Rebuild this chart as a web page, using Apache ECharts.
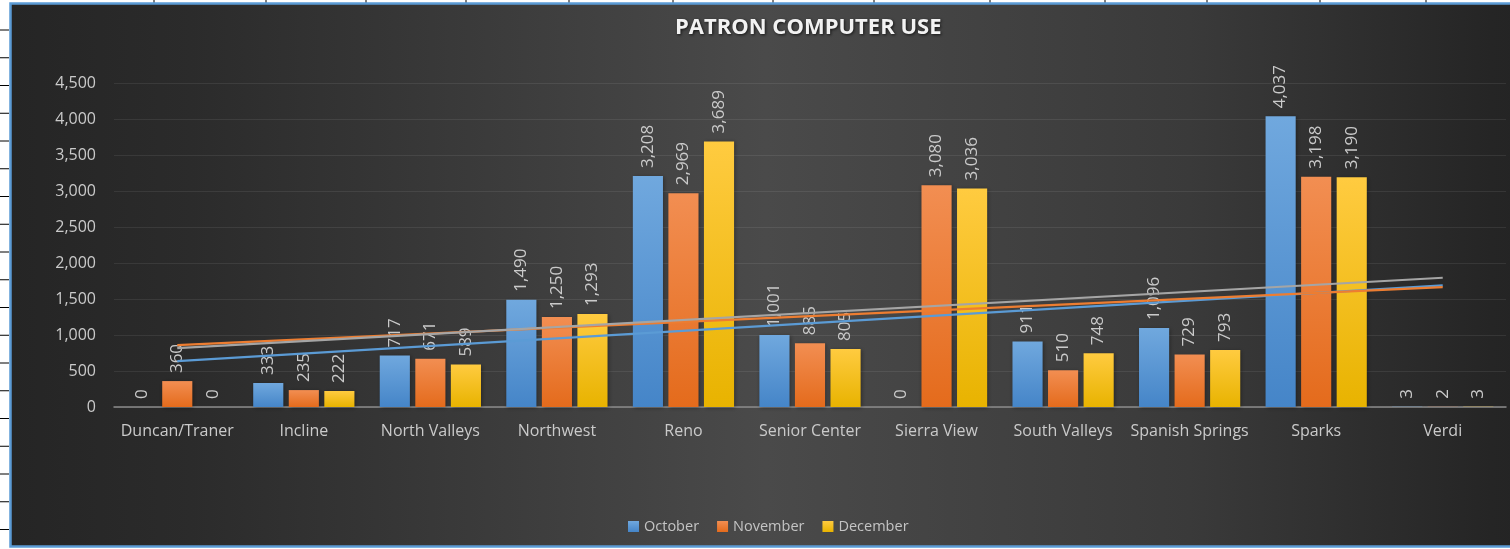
<!DOCTYPE html>
<html>
<head>
<meta charset="utf-8">
<script src="https://cdn.jsdelivr.net/npm/echarts@6/dist/echarts.min.js"></script>
<style>
  html, body { margin: 0; padding: 0; background: #ffffff; }
  #main { width: 1510px; height: 549px; }
</style>
</head>
<body>
<div id="main"></div>
<script>
// branches on the x axis
var categories = ['Duncan/Traner', 'Incline', 'North Valleys', 'Northwest', 'Reno', 'Senior Center',
                  'Sierra View', 'South Valleys', 'Spanish Springs', 'Sparks', 'Verdi'];
var october  = [0, 333, 717, 1490, 3208, 1001, 0, 911, 1096, 4037, 3];
var november = [360, 235, 671, 1250, 2969, 885, 3080, 510, 729, 3198, 2];
var december = [0, 222, 589, 1293, 3689, 805, 3036, 748, 793, 3190, 3];
// linear trendline ends (first and last category)
var octTrend = [636, 1690];
var novTrend = [860, 1666];
var decTrend = [817, 1795];
var yTicks = [0, 500, 1000, 1500, 2000, 2500, 3000, 3500, 4000, 4500];

var FONT = 'Open Sans';
var myChart = echarts.init(document.getElementById('main'));

function grad(top, bottom) {
    return new echarts.graphic.LinearGradient(0, 0, 0, 1, [
        { offset: 0, color: top }, { offset: 1, color: bottom }
    ]);
}

function barSeries(name, data, top, bottom) {
    return {
        name: name,
        type: 'bar',
        data: data,
        barGap: '18%',
        barCategoryGap: '20%',
        itemStyle: {
            color: grad(top, bottom),
            shadowColor: 'rgba(0,0,0,0.35)',
            shadowBlur: 4,
            shadowOffsetX: 1,
            shadowOffsetY: 1
        },
        label: {
            show: true,
            position: 'top',
            rotate: 90,
            align: 'left',
            verticalAlign: 'middle',
            distance: 8,
            color: '#cacaca',
            fontFamily: FONT,
            fontSize: 17,
            formatter: function (p) { return p.value.toLocaleString('en-US'); }
        },
        z: 2
    };
}

function trendSeries(ends, color) {
    return {
        type: 'line',
        data: [[categories[0], ends[0]], [categories[categories.length - 1], ends[1]]],
        symbol: 'none',
        silent: true,
        lineStyle: { color: color, width: 2.2 },
        z: 5
    };
}

// spreadsheet cells around the chart
var deco = [];
var rowY = 30;
while (rowY < 549) {
    deco.push({ type: 'line', shape: { x1: 0, y1: rowY, x2: 9, y2: rowY }, style: { stroke: '#000', lineWidth: 1 }, silent: true, z: -100 });
    rowY += 27.75;
}
[154, 266, 366, 466, 569, 673, 773, 874, 990, 1105, 1207, 1320, 1426].forEach(function (x) {
    deco.push({ type: 'line', shape: { x1: x, y1: 0, x2: x, y2: 3 }, style: { stroke: '#000', lineWidth: 1 }, silent: true, z: -100 });
});
deco.push({
    type: 'rect',
    shape: { x: 10.5, y: 3.5, width: 1510, height: 543 },
    style: {
        fill: new echarts.graphic.LinearGradient(0, 0, 1, 0, [
            { offset: 0, color: '#252525' },
            { offset: 0.12, color: '#2b2b2b' },
            { offset: 0.5, color: '#4a4a4a' },
            { offset: 0.78, color: '#3a3a3a' },
            { offset: 0.98, color: '#252525' },
            { offset: 1, color: '#242424' }
        ]),
        stroke: '#5b9bd5',
        lineWidth: 2.5
    },
    silent: true,
    z: -90
});

var option = {
    backgroundColor: '#ffffff',
    animation: false,
    graphic: deco,
    title: {
        text: 'PATRON COMPUTER USE',
        left: 670,
        top: 12,
        textStyle: {
            color: '#f2f2f2',
            fontFamily: FONT,
            fontWeight: 'bold',
            fontSize: 22,
            textShadowColor: 'rgba(0,0,0,0.7)',
            textShadowBlur: 3,
            textShadowOffsetX: 1,
            textShadowOffsetY: 1
        }
    },
    legend: {
        data: ['October', 'November', 'December'],
        left: 623,
        top: 514,
        itemWidth: 11,
        itemHeight: 11,
        itemGap: 18,
        icon: 'rect',
        textStyle: { color: '#c4c4c4', fontFamily: FONT, fontSize: 14.5 }
    },
    grid: { left: 114, right: 4, top: 83, bottom: 142 },
    xAxis: {
        type: 'category',
        data: categories,
        axisLine: { lineStyle: { color: '#8a8a8a', width: 1.5 } },
        axisTick: { show: false },
        axisLabel: { color: '#cacaca', fontFamily: FONT, fontSize: 16, margin: 16, interval: 0 }
    },
    yAxis: {
        type: 'value',
        min: yTicks[0],
        max: yTicks[yTicks.length - 1],
        interval: 500,
        axisLine: { show: false },
        axisTick: { show: false },
        splitLine: { lineStyle: { color: 'rgba(255,255,255,0.08)', width: 1 } },
        axisLabel: {
            color: '#cacaca', fontFamily: FONT, fontSize: 16, margin: 18,
            formatter: function (v) { return v.toLocaleString('en-US'); }
        }
    },
    series: [
        barSeries('October', october, '#70a8de', '#4585c8'),
        barSeries('November', november, '#f28e52', '#e46b1c'),
        barSeries('December', december, '#ffcb40', '#e8b300'),
        trendSeries(octTrend, '#5b9bd5'),
        trendSeries(novTrend, '#ed7d31'),
        trendSeries(decTrend, '#a5a5a5')
    ]
};
myChart.setOption(option);
</script>
</body>
</html>
